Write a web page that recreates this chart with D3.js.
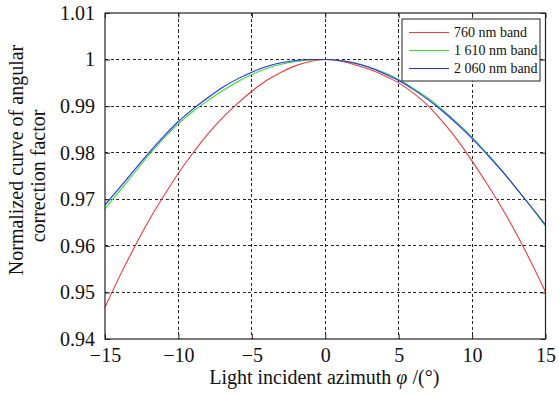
<!DOCTYPE html>
<html>
<head>
<meta charset="utf-8">
<script src="https://cdn.jsdelivr.net/npm/d3@7"></script>
<style>
  html, body { margin: 0; padding: 0; background: #fff; }
  svg { display: block; }
  text { font-family: "Liberation Serif", "Times New Roman", serif; fill: #111; }
</style>
</head>
<body>
<svg id="chart" width="559" height="394"></svg>
<script>
// Incident azimuth (degrees)
const azimuth = [-15,-14,-13,-12,-11,-10,-9,-8,-7,-6,-5,-4,-3,-2,-1,0,1,2,3,4,5,6,7,8,9,10,11,12,13,14,15];

// Normalized angular correction factor for each band
const band760 = [0.9468,0.9535,0.9597,0.9655,0.9707,0.9756,0.9800,0.9840,0.9875,0.9905,0.9932,0.9955,0.9973,0.9987,0.9996,1.0000,0.9997,0.9989,0.9979,0.9966,0.9950,0.9928,0.9901,0.9866,0.9827,0.9782,0.9734,0.9683,0.9627,0.9566,0.9501];
const band1610 = [0.9680,0.9718,0.9757,0.9796,0.9831,0.9862,0.9889,0.9912,0.9933,0.9952,0.9968,0.9981,0.9990,0.9996,0.9999,1.0000,0.9998,0.9993,0.9984,0.9972,0.9957,0.9938,0.9917,0.9892,0.9864,0.9833,0.9799,0.9763,0.9724,0.9684,0.9642];
const band2060 = [0.9688,0.9725,0.9763,0.9800,0.9835,0.9867,0.9894,0.9918,0.9940,0.9958,0.9973,0.9985,0.9993,0.9998,1.0000,1.0000,0.9998,0.9992,0.9983,0.9970,0.9955,0.9936,0.9914,0.9889,0.9861,0.9831,0.9797,0.9762,0.9724,0.9685,0.9645];

const seriesNames = ["760 nm band", "1 610 nm band", "2 060 nm band"];
const seriesColors = ["#f03c3c", "#2fe02f", "#2a2af0"];

const xTicks = [-15, -10, -5, 0, 5, 10, 15];
const yTicks = [0.94, 0.95, 0.96, 0.97, 0.98, 0.99, 1.00, 1.01];
const yTickLabels = ["0.94", "0.95", "0.96", "0.97", "0.98", "0.99", "1", "1.01"];

const series = [band760, band1610, band2060].map((vals, i) => ({
  name: seriesNames[i],
  color: seriesColors[i],
  points: azimuth.map((a, j) => ({ x: a, y: vals[j] }))
}));

const svg = d3.select("#chart");
const m = { left: 105, right: 545.5, top: 13, bottom: 339 };

const x = d3.scaleLinear().domain([-15, 15]).range([m.left, m.right]);
const y = d3.scaleLinear().domain([0.94, 1.01]).range([m.bottom, m.top]);

// Dotted grid
const grid = svg.append("g").attr("stroke", "#222").attr("stroke-width", 1)
  .attr("stroke-dasharray", "3,2.5").attr("shape-rendering", "crispEdges");
xTicks.slice(1, -1).forEach(t => {
  grid.append("line").attr("x1", x(t)).attr("x2", x(t)).attr("y1", m.top).attr("y2", m.bottom);
});
yTicks.slice(1, -1).forEach(t => {
  grid.append("line").attr("y1", y(t)).attr("y2", y(t)).attr("x1", m.left).attr("x2", m.right);
});

// Curves
const line = d3.line().x(d => x(d.x)).y(d => y(d.y)).curve(d3.curveMonotoneX);
svg.append("g").selectAll("path").data(series).join("path")
  .attr("d", d => line(d.points))
  .attr("fill", "none")
  .attr("stroke", d => d.color)
  .attr("stroke-width", 1.1);

// Axes with inward ticks on all sides
const tickLen = 5;
const axB = d3.axisBottom(x).tickValues(xTicks).tickSizeInner(-tickLen).tickSizeOuter(0)
  .tickFormat(d => d < 0 ? "\u2212" + Math.abs(d) : String(d)).tickPadding(9);
const axL = d3.axisLeft(y).tickValues(yTicks).tickSizeInner(-tickLen).tickSizeOuter(0)
  .tickFormat((d, i) => yTickLabels[i]).tickPadding(10);
const axT = d3.axisTop(x).tickValues(xTicks).tickSizeInner(-tickLen).tickSizeOuter(0).tickFormat("");
const axR = d3.axisRight(y).tickValues(yTicks).tickSizeInner(-tickLen).tickSizeOuter(0).tickFormat("");

function style(g) {
  g.select(".domain").remove();
  g.selectAll("line").attr("stroke", "#222");
  g.selectAll("text").attr("font-size", 20).attr("fill", "#111")
    .attr("font-family", "'Liberation Serif', 'Times New Roman', serif");
}
svg.append("g").attr("transform", `translate(0,${m.bottom})`).call(axB).call(style);
svg.append("g").attr("transform", `translate(${m.left},0)`).call(axL).call(style);
svg.append("g").attr("transform", `translate(0,${m.top})`).call(axT).call(style);
svg.append("g").attr("transform", `translate(${m.right},0)`).call(axR).call(style);

// Plot frame
svg.append("rect").attr("x", m.left).attr("y", m.top)
  .attr("width", m.right - m.left).attr("height", m.bottom - m.top)
  .attr("fill", "none").attr("stroke", "#222").attr("stroke-width", 1.2);

// Axis titles
svg.append("text").attr("x", (m.left + m.right) / 2 - 1).attr("y", 384)
  .attr("text-anchor", "middle").attr("font-size", 20)
  .html('Light incident azimuth <tspan font-style="italic">\u03C6</tspan> /(\u00B0)');

const yTitle = svg.append("g").attr("transform", "rotate(-90)");
yTitle.append("text").attr("x", -160).attr("y", 23).attr("text-anchor", "middle")
  .attr("font-size", 20).text("Normalized curve of angular");
yTitle.append("text").attr("x", -176).attr("y", 45).attr("text-anchor", "middle")
  .attr("font-size", 20).text("correction factor");

// Legend
const lg = svg.append("g");
lg.append("rect").attr("x", 402).attr("y", 19).attr("width", 138).attr("height", 62)
  .attr("fill", "#fff").attr("stroke", "#222").attr("stroke-width", 1);
series.forEach((s, i) => {
  const yy = 32.5 + i * 18;
  lg.append("line").attr("x1", 409).attr("x2", 449).attr("y1", yy).attr("y2", yy)
    .attr("stroke", s.color).attr("stroke-width", 1.1);
  lg.append("text").attr("x", 454).attr("y", yy + 4.5).attr("font-size", 14).text(s.name);
});
</script>
</body>
</html>
